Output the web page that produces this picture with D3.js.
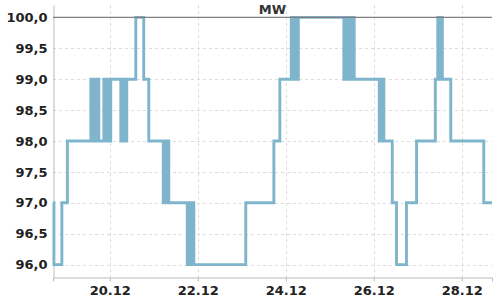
<!DOCTYPE html>
<html>
<head>
<meta charset="utf-8">
<script src="https://cdn.jsdelivr.net/npm/d3@7"></script>
<style>
  body { margin: 0; background: #fff; }
  svg { display: block; font-family: "DejaVu Sans", sans-serif; }
</style>
</head>
<body>
<script>
// Leistung in MW, Stufenwerte (Zeitpunkt, Wert)
const readings = [
  ["18.12 17:00", 97], ["18.12 17:30", 96], ["18.12 21:50", 97], ["19.12 00:50", 98],
  ["19.12 13:40", 99], ["19.12 14:30", 98], ["19.12 15:20", 99], ["19.12 16:10", 98], ["19.12 17:05", 99], ["19.12 18:00", 98],
  ["19.12 20:45", 99], ["19.12 21:40", 98], ["19.12 22:35", 99], ["19.12 23:35", 98], ["20.12 00:30", 99],
  ["20.12 06:00", 98], ["20.12 06:40", 99], ["20.12 07:20", 98], ["20.12 08:00", 99], ["20.12 08:40", 98], ["20.12 09:15", 99],
  ["20.12 14:10", 100], ["20.12 18:30", 99], ["20.12 21:15", 98],
  ["21.12 05:10", 97], ["21.12 05:55", 98], ["21.12 06:40", 97], ["21.12 07:25", 98], ["21.12 08:10", 97],
  ["21.12 18:15", 96], ["21.12 18:50", 97], ["21.12 19:25", 96], ["21.12 20:00", 97], ["21.12 20:35", 96], ["21.12 21:10", 97], ["21.12 21:50", 96],
  ["23.12 02:10", 97], ["23.12 17:30", 98], ["23.12 20:45", 99],
  ["24.12 03:00", 100], ["24.12 03:40", 99], ["24.12 04:20", 100], ["24.12 05:00", 99], ["24.12 05:40", 100], ["24.12 06:15", 99], ["24.12 06:50", 100],
  ["25.12 07:40", 99], ["25.12 08:25", 100], ["25.12 09:10", 99], ["25.12 09:55", 100], ["25.12 10:40", 99], ["25.12 11:20", 100], ["25.12 12:00", 99], ["25.12 12:40", 100], ["25.12 13:20", 99],
  ["26.12 03:00", 98], ["26.12 03:35", 99], ["26.12 04:10", 98], ["26.12 04:50", 99], ["26.12 05:30", 98],
  ["26.12 10:05", 97], ["26.12 12:25", 96], ["26.12 17:50", 97], ["26.12 23:20", 98], ["27.12 09:35", 99],
  ["27.12 10:55", 100], ["27.12 11:45", 99], ["27.12 12:35", 100], ["27.12 13:25", 99],
  ["27.12 18:00", 98], ["28.12 12:00", 97], ["28.12 16:30", 97]
];

const yTicks = [96, 96.5, 97, 97.5, 98, 98.5, 99, 99.5, 100];
const xTickDates = ["20.12", "22.12", "24.12", "26.12", "28.12"];
const refValue = 100;
const unitLabel = "MW";

const width = 500, height = 300;
const margin = {top: 5, right: 8, bottom: 23, left: 53};

const parseTime = d3.timeParse("%d.%m %H:%M");
const parseDay = d3.timeParse("%d.%m");
const data = readings.map(([t, v]) => ({date: parseTime(t), value: v}));

const de = d3.formatLocale({decimal: ",", thousands: ".", grouping: [3], currency: ["", " €"]});
const fmtY = de.format(".1f");

const x = d3.scaleTime()
  .domain(d3.extent(data, d => d.date))
  .range([margin.left, width - margin.right]);

const y = d3.scaleLinear()
  .domain([95.8, 100.2])
  .range([height - margin.bottom, margin.top]);

const svg = d3.select("body").append("svg")
  .attr("width", width)
  .attr("height", height);

// Raster
svg.append("g")
  .selectAll("line")
  .data(yTicks)
  .join("line")
  .attr("x1", margin.left)
  .attr("x2", width - margin.right)
  .attr("y1", d => Math.round(y(d)) + 0.5)
  .attr("y2", d => Math.round(y(d)) + 0.5)
  .attr("stroke", "#ddd")
  .attr("stroke-dasharray", "3,3");

svg.append("g")
  .selectAll("line")
  .data(xTickDates.map(parseDay))
  .join("line")
  .attr("x1", d => Math.round(x(d)) + 0.5)
  .attr("x2", d => Math.round(x(d)) + 0.5)
  .attr("y1", margin.top)
  .attr("y2", height - margin.bottom)
  .attr("stroke", "#ddd")
  .attr("stroke-dasharray", "3,3");

// Achsen
const xAxis = svg.append("g")
  .attr("transform", `translate(0,${height - margin.bottom + 0.5})`)
  .call(d3.axisBottom(x)
    .tickValues(xTickDates.map(parseDay))
    .tickFormat(d3.timeFormat("%d.%m"))
    .tickSize(4)
    .tickPadding(4));

const yAxis = svg.append("g")
  .attr("transform", `translate(${margin.left + 0.5},0)`)
  .call(d3.axisLeft(y)
    .tickValues(yTicks)
    .tickFormat(fmtY)
    .tickSize(0)
    .tickPadding(6));

[xAxis, yAxis].forEach(g => {
  g.select(".domain").attr("stroke", "#bbb");
  g.selectAll(".tick line").attr("stroke", "#bbb");
  g.selectAll(".tick text")
    .attr("fill", "#222")
    .attr("font-size", 13)
    .attr("font-weight", "bold")
    .attr("font-family", "DejaVu Sans, sans-serif");
});

// Linie
const line = d3.line()
  .curve(d3.curveStepAfter)
  .x(d => x(d.date))
  .y(d => y(d.value));

svg.append("path")
  .datum(data)
  .attr("fill", "none")
  .attr("stroke", "#7fb5cc")
  .attr("stroke-width", 2.9)
  .attr("stroke-linejoin", "miter")
  .attr("d", line);

// Referenzlinie 100 MW
svg.append("line")
  .attr("x1", margin.left)
  .attr("x2", width - margin.right)
  .attr("y1", y(refValue))
  .attr("y2", y(refValue))
  .attr("stroke", "#808080")
  .attr("stroke-width", 1.3);

svg.append("text")
  .attr("x", (margin.left + width - margin.right) / 2)
  .attr("y", 14)
  .attr("text-anchor", "middle")
  .attr("font-size", 13)
  .attr("font-weight", "bold")
  .attr("fill", "#333")
  .text(unitLabel);
</script>
</body>
</html>
